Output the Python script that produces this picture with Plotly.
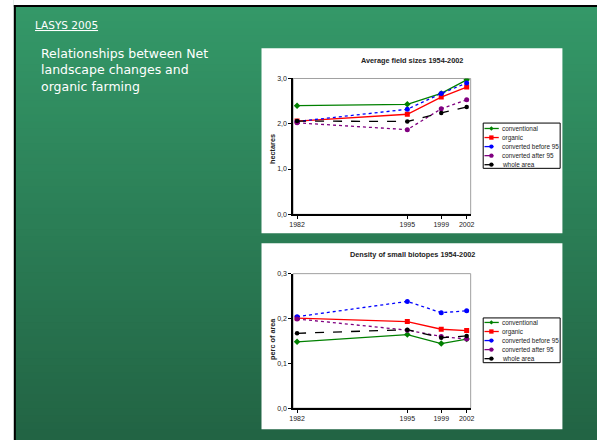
import plotly.graph_objects as go

W, H = 597, 440

years = [1982, 1995, 1999, 2002]
series_names = ["conventional", "organic", "converted before 95", "converted after 95", "whole area"]

field_conventional = [2.40, 2.43, 2.67, 2.97]
field_organic = [2.06, 2.21, 2.59, 2.81]
field_conv_before95 = [2.05, 2.32, 2.67, 2.90]
field_conv_after95 = [2.02, 1.87, 2.33, 2.53]
field_whole = [2.06, 2.05, 2.24, 2.37]

bio_conventional = [0.148, 0.164, 0.144, 0.154]
bio_organic = [0.201, 0.193, 0.176, 0.173]
bio_conv_before95 = [0.204, 0.238, 0.213, 0.217]
bio_conv_after95 = [0.199, 0.174, 0.160, 0.154]
bio_whole = [0.167, 0.175, 0.157, 0.161]

field_ticks = [0, 1, 2, 3]
bio_ticks = [0, 0.1, 0.2, 0.3]

colors = ["#008000", "#ff0000", "#0000ff", "#800080", "#000000"]
dashes = ["solid", "solid", "dot", "dot", "dash"]
symbols = ["diamond", "square", "circle", "circle", "circle"]
msizes = [5, 5, 5, 5, 4.5]


def px(x):
    return x / W


def py(y):
    return 1 - y / H


fig = go.Figure()

field_data = [field_conventional, field_organic, field_conv_before95, field_conv_after95, field_whole]
bio_data = [bio_conventional, bio_organic, bio_conv_before95, bio_conv_after95, bio_whole]

for axn, data in (("", field_data), ("2", bio_data)):
    for i, vals in enumerate(data):
        fig.add_trace(go.Scatter(
            x=years, y=vals, name=series_names[i], mode="lines+markers",
            line=dict(color=colors[i], width=1.3, dash=dashes[i]),
            marker=dict(color=colors[i], symbol=symbols[i], size=msizes[i]),
            xaxis="x" + axn, yaxis="y" + axn, showlegend=False,
        ))

shapes = []
annotations = []

# slide background
top = (52, 152, 104)
bot = (34, 100, 68)
nb = 60
for k in range(nb):
    t = k / (nb - 1)
    c = tuple(round(top[j] + (bot[j] - top[j]) * t) for j in range(3))
    y0 = 3 + (440 - 3) * k / nb
    # each band runs to the bottom; later (darker) bands cover the lower part -> no seams
    shapes.append(dict(type="rect", xref="paper", yref="paper", x0=px(12), x1=1.01, y0=-0.01, y1=py(y0),
                       fillcolor="rgb(%d,%d,%d)" % c, line_width=0, layer="below"))
shapes.append(dict(type="rect", xref="paper", yref="paper", x0=-0.01, x1=px(10), y0=-0.01, y1=1.01,
                   fillcolor="white", line_width=0, layer="below"))
shapes.append(dict(type="rect", xref="paper", yref="paper", x0=px(10), x1=1.01, y0=py(1), y1=1.01,
                   fillcolor="white", line_width=0, layer="below"))
shapes.append(dict(type="rect", xref="paper", yref="paper", x0=px(10), x1=px(12), y0=-0.01, y1=py(1),
                   fillcolor="black", line_width=0, layer="below"))
shapes.append(dict(type="rect", xref="paper", yref="paper", x0=px(10), x1=1.01, y0=py(3), y1=py(1),
                   fillcolor="black", line_width=0, layer="below"))

# white chart boxes
for (y0, y1) in ((45, 233), (243, 432)):
    shapes.append(dict(type="rect", xref="paper", yref="paper", x0=px(261), x1=px(566), y0=py(y1), y1=py(y0),
                       fillcolor="white", line_width=0, layer="below"))

# plot-area gray borders
for xa, ya in (("x", "y"), ("x2", "y2")):
    shapes.append(dict(type="rect", xref=xa + " domain", yref=ya + " domain", x0=0, x1=1, y0=0, y1=1,
                       line=dict(color="#a0a0a0", width=1), fillcolor="rgba(0,0,0,0)", layer="below"))

# slide text
annotations.append(dict(xref="paper", yref="paper", x=px(29), y=py(21), xanchor="left", yanchor="middle",
                        text="<u>LASYS 2005</u>", showarrow=False,
                        font=dict(family="DejaVu Sans", size=10.5, color="white")))
annotations.append(dict(xref="paper", yref="paper", x=px(35), y=py(41), xanchor="left", yanchor="top",
                        align="left",
                        text="Relationships between Net<br>landscape changes and<br>organic farming",
                        showarrow=False,
                        font=dict(family="DejaVu Sans", size=12.5, color="white")))

# chart titles and axis titles
tfont = dict(family="Liberation Sans", size=7.3, color="#222")
annotations.append(dict(xref="paper", yref="paper", x=px(414), y=py(57), xanchor="center", yanchor="middle",
                        text="<b>Average field sizes 1954-2002</b>", showarrow=False, font=tfont))
annotations.append(dict(xref="paper", yref="paper", x=px(414), y=py(255), xanchor="center", yanchor="middle",
                        text="<b>Density of small biotopes 1954-2002</b>", showarrow=False, font=tfont))
annotations.append(dict(xref="paper", yref="paper", x=px(272), y=py(147), xanchor="center", yanchor="middle",
                        text="<b>hectares</b>", textangle=-90, showarrow=False, font=tfont))
annotations.append(dict(xref="paper", yref="paper", x=px(272), y=py(340), xanchor="center", yanchor="middle",
                        text="<b>perc of area</b>", textangle=-90, showarrow=False, font=tfont))


# manual legends
def legend(box_top, box_bottom, row0, step):
    shapes.append(dict(type="rect", xref="paper", yref="paper", x0=px(485.7), x1=px(563.7),
                       y0=py(box_bottom), y1=py(box_top), line=dict(color="black", width=1), fillcolor="white"))
    for i in range(5):
        yy = row0 + step * i
        shapes.append(dict(type="line", xref="paper", yref="paper", x0=px(487), x1=px(501.5), y0=py(yy), y1=py(yy),
                           line=dict(color=colors[i], width=1.3, dash="dash" if dashes[i] != "solid" else "solid")))
        cx = 494
        r = 2.2
        if symbols[i] == "square":
            shapes.append(dict(type="rect", xref="paper", yref="paper", x0=px(cx - r), x1=px(cx + r),
                               y0=py(yy + r), y1=py(yy - r), fillcolor=colors[i], line_width=0))
        elif symbols[i] == "diamond":
            path = "M %f %f L %f %f L %f %f L %f %f Z" % (px(cx - r), py(yy), px(cx), py(yy - r),
                                                          px(cx + r), py(yy), px(cx), py(yy + r))
            shapes.append(dict(type="path", xref="paper", yref="paper", path=path, fillcolor=colors[i], line_width=0))
        else:
            shapes.append(dict(type="circle", xref="paper", yref="paper", x0=px(cx - r), x1=px(cx + r),
                               y0=py(yy + r), y1=py(yy - r), fillcolor=colors[i], line_width=0))
        annotations.append(dict(xref="paper", yref="paper", x=px(502.3), y=py(yy), xanchor="left", yanchor="middle",
                                text=series_names[i], showarrow=False,
                                font=dict(family="Liberation Sans", size=6.4, color="#222")))


legend(121, 167, 126.5, 9.2)
legend(319, 364.5, 323.6, 9.2)

axis_font = dict(family="Liberation Sans", size=7, color="#222")
xcommon = dict(range=[1981.53, 2002.47], tickmode="array", tickvals=years, ticktext=[str(y) for y in years],
               showgrid=False, zeroline=False, showline=True, linecolor="black", linewidth=1.5,
               ticks="outside", ticklen=3, tickcolor="black", tickfont=axis_font)
ycommon = dict(showgrid=False, zeroline=False, showline=True, linecolor="black", linewidth=1.5,
               ticks="outside", ticklen=3, tickcolor="black", tickfont=axis_font, tickformat=".1f")

fig.update_layout(
    width=W, height=H, margin=dict(l=0, r=0, t=0, b=0),
    paper_bgcolor="rgb(40,120,80)", plot_bgcolor="rgba(0,0,0,0)",
    separators=",.",
    showlegend=False,
    xaxis=dict(domain=[px(293), px(473)], anchor="y", **xcommon),
    yaxis=dict(domain=[py(213.7), py(75.7)], anchor="x", range=[0, 3], tickvals=field_ticks, **ycommon),
    xaxis2=dict(domain=[px(293), px(473)], anchor="y2", **xcommon),
    yaxis2=dict(domain=[py(410.7), py(274)], anchor="x2", range=[0, 0.3], tickvals=bio_ticks, **ycommon),
    shapes=shapes, annotations=annotations,
)

fig.write_html("out.html", config={"displayModeBar": False},
               post_script="document.body.style.margin='0';document.body.style.overflow='hidden';"
                           "document.body.style.background='rgb(36,104,70)';")
